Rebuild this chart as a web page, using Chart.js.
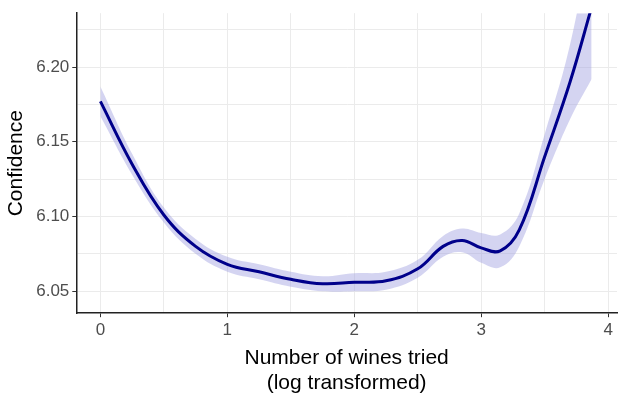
<!DOCTYPE html>
<html>
<head>
<script src="https://cdn.jsdelivr.net/npm/chart.js@4"></script>
<style>
body { margin: 0; background: #fff; }
#wrap { width: 625px; height: 400px; }
</style>
</head>
<body>
<div id="wrap"><canvas id="c"></canvas></div>
<script>
const xs = [0, 0.25, 0.5, 0.75, 1, 1.25, 1.5, 1.75, 2, 2.25, 2.5, 2.7, 2.85, 3, 3.15, 3.3, 3.5, 3.7, 3.87];
const fit = [6.177, 6.135, 6.101, 6.080, 6.068, 6.063, 6.058, 6.055, 6.056, 6.057, 6.065, 6.080, 6.084, 6.079, 6.077, 6.091, 6.140, 6.190, 6.240];
const upper = [6.187, 6.142, 6.106, 6.085, 6.073, 6.068, 6.063, 6.060, 6.062, 6.063, 6.071, 6.087, 6.092, 6.089, 6.088, 6.102, 6.155, 6.215, 6.290];
const lower = [6.167, 6.128, 6.096, 6.075, 6.063, 6.058, 6.053, 6.050, 6.050, 6.051, 6.059, 6.073, 6.076, 6.069, 6.066, 6.080, 6.125, 6.165, 6.192];

const pts = arr => xs.map((x, i) => ({ x: x, y: arr[i] }));
const majorTick = c => (c.tick && c.tick.label !== "") ? "#333" : "rgba(0,0,0,0)";

new Chart(document.getElementById("c"), {
    type: "line",
    data: {
        datasets: [
            { data: pts(fit), borderColor: "#00008b", borderWidth: 3, pointRadius: 0, tension: 0.4, fill: false, order: 0 },
            { data: pts(upper), borderWidth: 0, pointRadius: 0, tension: 0.4, fill: false, order: 2 },
            { data: pts(lower), borderWidth: 0, pointRadius: 0, tension: 0.4,
              fill: "-1", backgroundColor: "rgba(160,160,225,0.45)", order: 1 }
        ]
    },
    options: {
        responsive: true,
        maintainAspectRatio: false,
        animation: false,
        layout: { padding: { right: 8, top: -12, left: 0 } },
        plugins: { legend: { display: false }, tooltip: { enabled: false } },
        scales: {
            x: {
                type: "linear",
                min: -0.19,
                max: 4.07,
                afterBuildTicks: ax => { ax.ticks = [0, 0.5, 1, 1.5, 2, 2.5, 3, 3.5, 4].map(v => ({ value: v })); },
                ticks: {
                    color: "#4d4d4d",
                    font: { family: "Liberation Sans", size: 17 },
                    callback: v => Number.isInteger(v) ? String(v) : "",
                    autoSkip: false,
                    maxRotation: 0
                },
                grid: { color: "#ebebeb", tickLength: 4, tickColor: majorTick },
                border: { color: "#222", width: 1.5 },
                title: {
                    display: true,
                    text: ["Number of wines tried", "(log transformed)"],
                    color: "#000",
                    font: { family: "Liberation Sans", size: 21 },
                    padding: { top: 2 }
                }
            },
            y: {
                min: 6.0353,
                max: 6.236,
                afterBuildTicks: ax => { ax.ticks = [6.05, 6.075, 6.10, 6.125, 6.15, 6.175, 6.20, 6.225].map(v => ({ value: v })); },
                ticks: {
                    color: "#4d4d4d",
                    font: { family: "Liberation Sans", size: 17 },
                    callback: v => (Math.round(v * 1000) % 50 === 0) ? v.toFixed(2) : ""
                },
                grid: { color: "#ebebeb", tickLength: 4, tickColor: majorTick },
                border: { color: "#222", width: 1.5 },
                title: {
                    display: true,
                    text: "Confidence",
                    color: "#000",
                    font: { family: "Liberation Sans", size: 21 }
                }
            }
        }
    }
});
</script>
</body>
</html>
